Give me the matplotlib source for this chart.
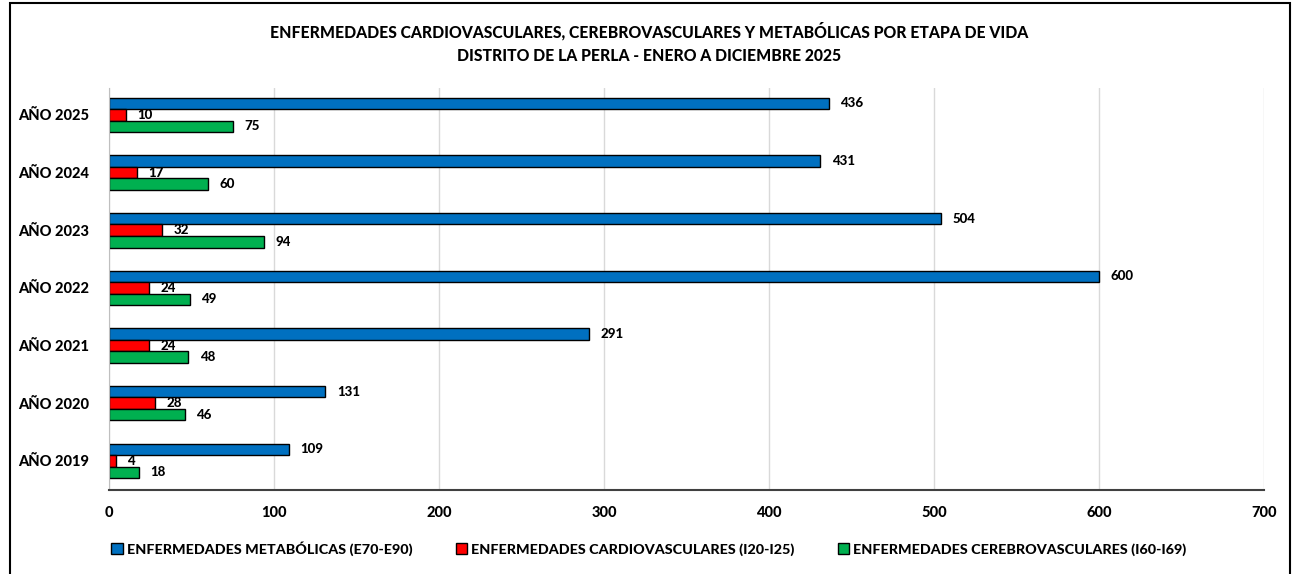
import matplotlib
matplotlib.use("Agg")
import matplotlib.pyplot as plt
import numpy as np
from matplotlib.patches import Rectangle, Patch

years = ["AÑO 2019", "AÑO 2020", "AÑO 2021", "AÑO 2022", "AÑO 2023", "AÑO 2024", "AÑO 2025"]
metabolicas = [109, 131, 291, 600, 504, 431, 436]
cardiovasculares = [4, 28, 24, 24, 32, 17, 10]
cerebrovasculares = [18, 46, 48, 49, 94, 60, 75]
series_names = ["ENFERMEDADES METABÓLICAS (E70-E90)",
                "ENFERMEDADES CARDIOVASCULARES (I20-I25)",
                "ENFERMEDADES CEREBROVASCULARES (I60-I69)"]
colors = ["#0070C0", "#FF0000", "#00B050"]
title = "ENFERMEDADES CARDIOVASCULARES, CEREBROVASCULARES Y METABÓLICAS POR ETAPA DE VIDA\nDISTRITO DE LA PERLA - ENERO A DICIEMBRE 2025"

plt.rcParams['font.family'] = ['Lato', 'DejaVu Sans']
W = 900

fig = plt.figure(figsize=(12.98, 5.74), dpi=100)
ax = fig.add_axes([0.084, 0.147, 0.89, 0.70])

y = np.arange(len(years))
h = 0.2
offsets = [h, 0, -h]
for vals, off in zip([metabolicas, cardiovasculares, cerebrovasculares], offsets):
    pass
for vals, off, col in zip([metabolicas, cardiovasculares, cerebrovasculares], offsets, colors):
    ax.barh(y + off, vals, height=h, color=col, edgecolor="black", linewidth=1)
    for yy, v in zip(y + off, vals):
        ax.text(v + 7, yy, str(v), va="center", ha="left",
                fontsize=9.5, fontweight=W, color="black")

ax.set_xlim(0, 700)
ax.set_ylim(-0.5, 6.47)
ax.set_xticks(range(0, 701, 100))
ax.set_yticks(y)
ax.set_yticklabels(years)
ax.tick_params(axis="both", length=0, labelsize=10.5)
for lab in ax.get_xticklabels() + ax.get_yticklabels():
    lab.set_fontweight(W)
ax.tick_params(axis="x", pad=12)
ax.tick_params(axis="y", pad=14)
ax.grid(axis="x", color="#d9d9d9", linewidth=1)
ax.set_axisbelow(True)
for s in ["top", "right"]:
    ax.spines[s].set_visible(False)
ax.spines["left"].set_color("#bfbfbf")
ax.spines["bottom"].set_color("#404040")
ax.spines["bottom"].set_linewidth(1.5)

fig.text(0.5, 0.925, title, ha="center", va="center", fontsize=11.3, fontweight=W,
         linespacing=1.6)

handles = [Patch(facecolor=c, edgecolor="black", linewidth=1) for c in colors]
fig.legend(handles, series_names, loc="center", bbox_to_anchor=(0.5, 0.045), ncol=3,
           frameon=False, handlelength=0.8, handleheight=0.8, handletextpad=0.3,
           columnspacing=3, prop={"size": 10.3, "weight": W})

fig.patches.append(Rectangle((10/1298, -0.05), 1280/1298, 1.05 - 3/574, transform=fig.transFigure,
                             fill=False, edgecolor="black", linewidth=1.5))

fig.savefig("out.png", dpi=100, facecolor="white")
